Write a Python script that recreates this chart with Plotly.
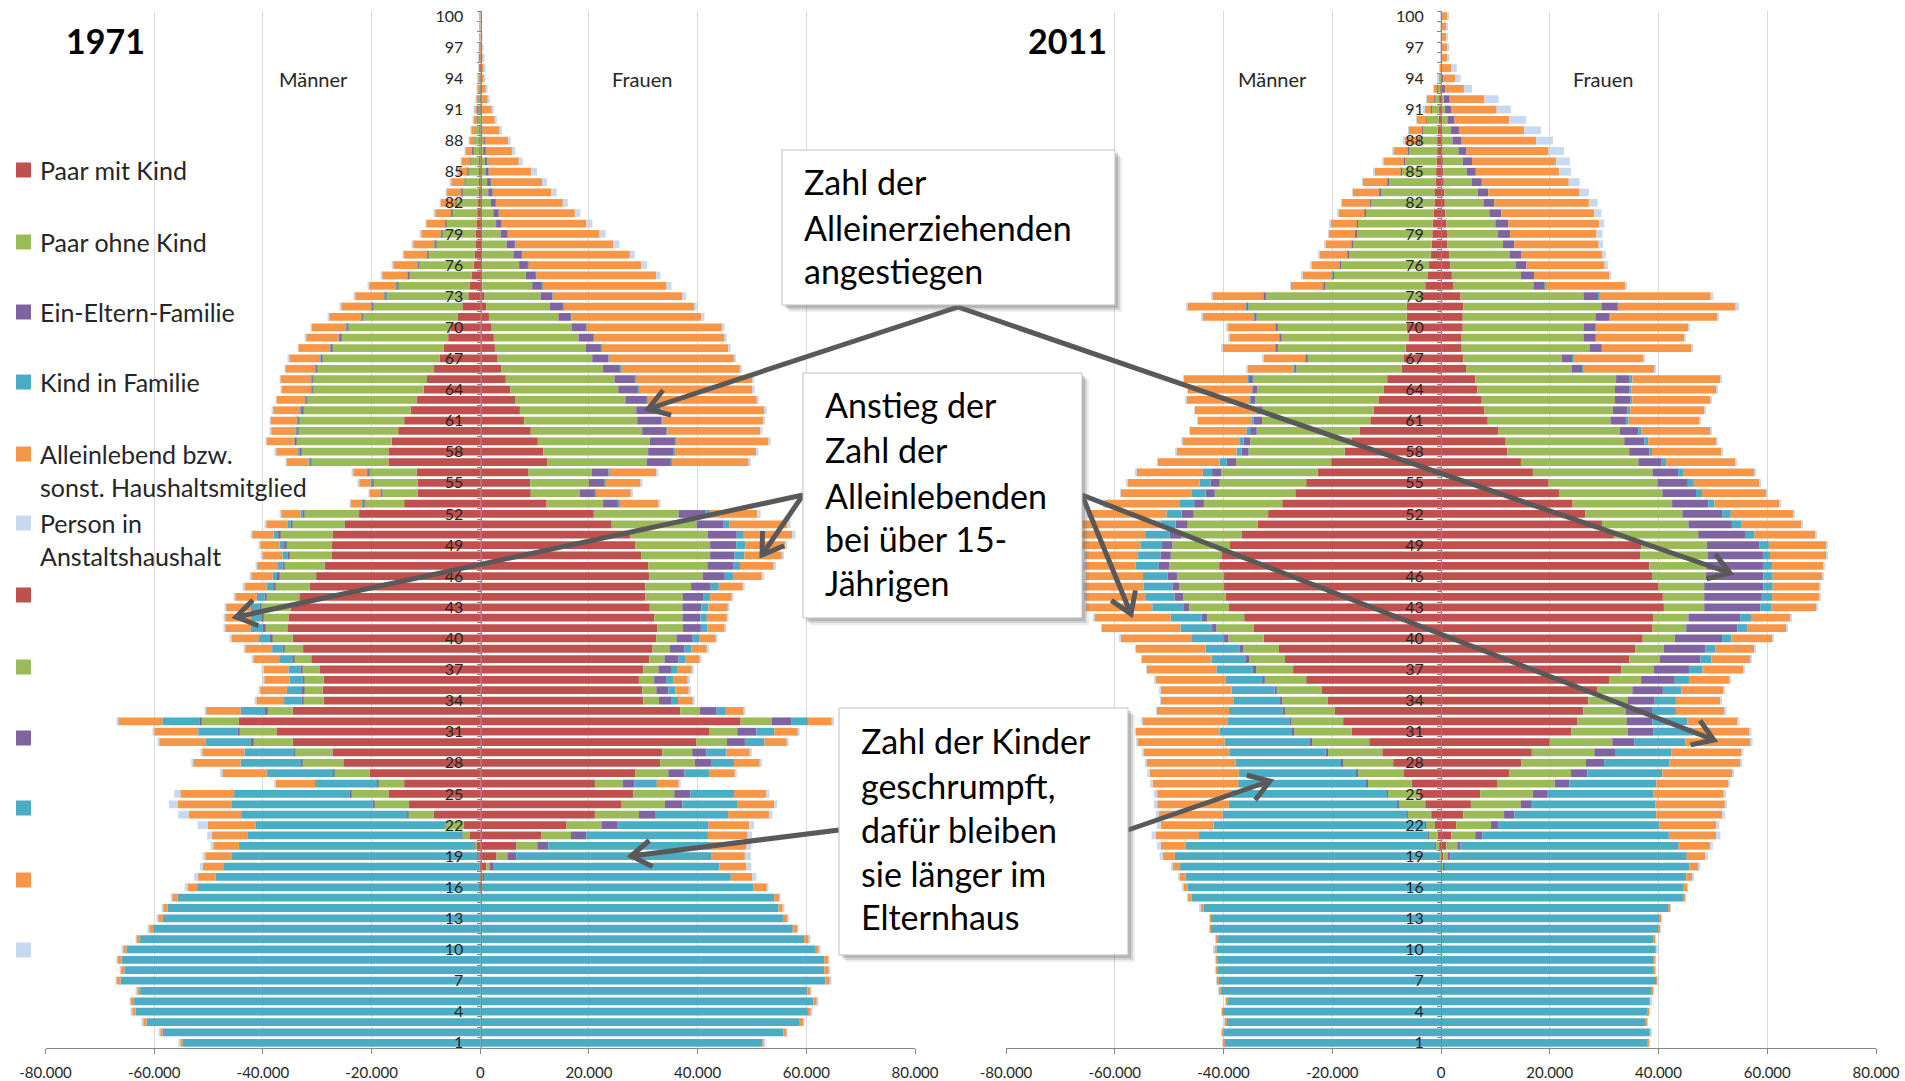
import math
import plotly.graph_objects as go

W, H = 1905, 1081


def px(x):
    return x / W


def py(y):
    return 1 - y / H


# ---------------- data (values in thousand persons), ages 100 -> 1 ----------------
AGES = list(range(100, 0, -1))
AGE_TICKS = list(range(1, 101, 3))

CATEGORIES = ["Paar mit Kind", "Paar ohne Kind", "Ein-Eltern-Familie", "Kind in Familie",
              "Alleinlebend bzw. sonst. Haushaltsmitglied", "Person in Anstaltshaushalt"]
COLORS = ["#C0504D", "#9BBB59", "#8064A2", "#4BACC6", "#F79646", "#C6D9F1"]

X_TICKS = [-80, -60, -40, -20, 0, 20, 40, 60, 80]
X_TICKTEXT = ["-80.000", "-60.000", "-40.000", "-20.000", "0", "20.000", "40.000", "60.000", "80.000"]

# ---- 1971 Männer ----
M71_PAAR_MIT_KIND = [
    0, 0, 0, 0, 0, 0.01, 0.02, 0.03, 0.04, 0.05,
    0.06, 0.08, 0.1, 0.12, 0.15, 0.18, 0.2, 0.3, 0.4, 0.55,
    0.7, 0.8, 0.9, 1.0, 1.2, 1.6, 1.9, 2.2, 3.3, 4.2,
    5.4, 5.9, 6.7, 7.5, 8.5, 9.8, 10.4, 11.7, 12.8, 14.0,
    15.1, 16.3, 16.9, 16.9, 11.7, 11.5, 11.5, 14.0, 22.3, 24.9,
    27.2, 27.3, 27.3, 28.6, 30.2, 31.4, 33.3, 34.9, 35.3, 35.5,
    34.5, 32.6, 31.1, 29.6, 28.8, 29.0, 28.8, 34.5, 44.4, 37.5,
    34.5, 27.2, 25.2, 20.3, 14.0, 16.9, 13.1, 8.6, 3.1, 2.0,
    0.6, 0.2, 0.05, 0, 0, 0, 0, 0, 0, 0,
    0, 0, 0, 0, 0, 0, 0, 0, 0, 0]
M71_PAAR_OHNE_KIND = [
    0, 0.01, 0.02, 0.04, 0.06, 0.1, 0.15, 0.25, 0.35, 0.45,
    0.6, 0.8, 1.0, 1.3, 1.7, 2.1, 2.6, 3.1, 4.1, 4.7,
    5.6, 6.3, 7.3, 8.6, 10.0, 11.5, 13.2, 15.1, 16.4, 17.3,
    18.9, 19.8, 20.6, 21.6, 21.5, 20.9, 20.3, 20.1, 19.9, 19.3,
    18.4, 17.6, 16.1, 14.2, 8.8, 8.3, 6.5, 7.4, 10.1, 9.7,
    9.7, 8.5, 7.9, 7.5, 6.9, 6.4, 6.1, 5.4, 4.7, 4.2,
    3.9, 3.5, 3.2, 3.2, 3.6, 3.5, 3.8, 4.8, 7.0, 6.9,
    7.4, 6.8, 7.6, 6.6, 4.8, 6.9, 6.5, 4.7, 3.3, 1.3,
    0.6, 0.3, 0.1, 0.02, 0, 0, 0, 0, 0, 0,
    0, 0, 0, 0, 0, 0, 0, 0, 0, 0]
M71_EIN_ELTERN = [
    0, 0, 0, 0, 0, 0, 0.01, 0.01, 0.02, 0.02,
    0.03, 0.03, 0.04, 0.05, 0.06, 0.07, 0.08, 0.1, 0.1, 0.12,
    0.15, 0.18, 0.2, 0.2, 0.25, 0.3, 0.3, 0.3, 0.3, 0.3,
    0.3, 0.3, 0.3, 0.3, 0.3, 0.3, 0.3, 0.3, 0.3, 0.3,
    0.3, 0.3, 0.3, 0.3, 0.2, 0.2, 0.2, 0.2, 0.3, 0.3,
    0.3, 0.3, 0.3, 0.3, 0.3, 0.3, 0.3, 0.3, 0.3, 0.3,
    0.3, 0.3, 0.3, 0.3, 0.3, 0.3, 0.3, 0.3, 0.3, 0.3,
    0.3, 0.2, 0.2, 0.2, 0.2, 0.2, 0.2, 0.1, 0.1, 0.05,
    0.02, 0.01, 0, 0, 0, 0, 0, 0, 0, 0,
    0, 0, 0, 0, 0, 0, 0, 0, 0, 0]
M71_KIND = [
    0, 0, 0, 0, 0, 0, 0, 0, 0, 0,
    0, 0, 0, 0, 0, 0.01, 0.01, 0.01, 0.02, 0.02,
    0.02, 0.03, 0.03, 0.04, 0.04, 0.05, 0.05, 0.06, 0.06, 0.07,
    0.07, 0.08, 0.08, 0.09, 0.1, 0.1, 0.1, 0.12, 0.12, 0.14,
    0.15, 0.15, 0.2, 0.2, 0.15, 0.15, 0.15, 0.2, 0.4, 0.6,
    0.8, 0.8, 0.9, 0.8, 0.8, 1.2, 1.4, 1.6, 1.9, 2.2,
    2.0, 1.9, 2.4, 2.2, 2.4, 2.8, 3.2, 4.5, 6.8, 7.2,
    8.3, 9.2, 11.1, 12.2, 11.4, 21.3, 26.0, 30.6, 34.8, 39.4,
    43.2, 45.3, 47.0, 48.7, 52.1, 55.7, 57.5, 58.4, 60.2, 62.6,
    65.1, 66.0, 65.5, 66.2, 62.6, 63.7, 63.4, 61.4, 58.4, 54.8]
M71_ALLEIN = [
    0.02, 0.03, 0.05, 0.08, 0.1, 0.15, 0.25, 0.3, 0.4, 0.5,
    0.6, 0.8, 0.9, 1.3, 1.6, 1.8, 2.5, 2.7, 2.7, 3.0,
    3.5, 3.6, 4.0, 4.3, 4.6, 4.7, 5.1, 5.4, 5.6, 6.0,
    6.4, 6.0, 5.8, 5.7, 5.5, 5.7, 5.5, 5.3, 5.1, 4.9,
    4.6, 5.0, 4.1, 4.1, 2.6, 2.2, 2.1, 2.1, 3.6, 3.9,
    4.0, 3.7, 3.7, 3.9, 4.0, 4.1, 4.1, 4.6, 4.8, 4.8,
    5.1, 5.0, 4.8, 4.6, 4.7, 5.0, 5.1, 6.4, 8.2, 8.2,
    8.6, 7.8, 8.8, 8.3, 7.2, 9.9, 9.9, 9.7, 8.8, 6.6,
    4.7, 4.8, 3.9, 3.2, 1.8, 1.0, 0.9, 0.9, 0.8, 0.7,
    0.7, 0.8, 0.7, 0.8, 0.6, 0.7, 0.7, 0.7, 0.6, 0.5]
M71_ANSTALT = [
    0.01, 0.01, 0.01, 0.02, 0.02, 0.03, 0.03, 0.04, 0.05, 0.05,
    0.06, 0.07, 0.08, 0.1, 0.1, 0.1, 0.1, 0.1, 0.1, 0.1,
    0.1, 0.1, 0.1, 0.1, 0.1, 0.1, 0.1, 0.1, 0.1, 0.1,
    0.1, 0.1, 0.1, 0.1, 0.1, 0.1, 0.1, 0.1, 0.1, 0.1,
    0.1, 0.1, 0.1, 0.1, 0.1, 0.1, 0.1, 0.1, 0.2, 0.2,
    0.2, 0.2, 0.2, 0.2, 0.2, 0.2, 0.2, 0.2, 0.2, 0.2,
    0.2, 0.2, 0.2, 0.2, 0.2, 0.2, 0.2, 0.2, 0.2, 0.2,
    0.2, 0.3, 0.3, 0.3, 0.4, 1.1, 1.6, 1.9, 1.9, 0.9,
    0.5, 0.5, 0.5, 0.7, 0.5, 0.2, 0.1, 0.1, 0.1, 0.1,
    0.1, 0.1, 0.1, 0.1, 0.1, 0.1, 0.1, 0.1, 0.1, 0.1]

# ---- 1971 Frauen ----
W71_PAAR_MIT_KIND = [
    0, 0, 0, 0, 0, 0, 0, 0, 0, 0.01,
    0.01, 0.02, 0.02, 0.03, 0.04, 0.05, 0.06, 0.07, 0.08, 0.1,
    0.12, 0.15, 0.18, 0.2, 0.25, 0.3, 0.35, 0.8, 1.1, 1.6,
    2.1, 2.5, 2.7, 3.2, 3.9, 4.7, 5.5, 6.4, 7.3, 8.1,
    9.3, 10.6, 11.6, 12.3, 8.9, 9.2, 9.3, 12.2, 20.9, 24.2,
    27.6, 28.5, 29.6, 30.9, 31.1, 30.4, 30.4, 31.2, 32.0, 32.6,
    32.4, 31.7, 31.1, 30.0, 29.2, 29.8, 30.0, 36.8, 47.9, 42.1,
    39.8, 33.5, 33.1, 28.5, 21.1, 28.1, 25.9, 21.1, 15.8, 11.2,
    6.6, 3.0, 1.1, 0.4, 0.1, 0, 0, 0, 0, 0,
    0, 0, 0, 0, 0, 0, 0, 0, 0, 0]
W71_PAAR_OHNE_KIND = [
    0, 0, 0.01, 0.02, 0.03, 0.04, 0.05, 0.1, 0.15, 0.2,
    0.3, 0.4, 0.6, 0.7, 0.8, 0.9, 1.2, 1.4, 1.9, 2.3,
    2.8, 3.6, 4.7, 5.9, 6.9, 8.1, 9.2, 10.3, 11.7, 12.8,
    14.7, 15.6, 16.7, 17.4, 18.7, 20.0, 19.9, 20.3, 21.4, 20.8,
    20.5, 20.6, 19.3, 18.3, 11.6, 10.8, 9.0, 10.4, 15.6, 15.6,
    14.3, 13.8, 12.7, 10.9, 9.8, 8.4, 6.9, 6.0, 5.2, 4.7,
    3.7, 3.2, 2.8, 2.8, 2.8, 2.6, 2.9, 3.6, 5.7, 5.2,
    5.6, 5.5, 6.4, 6.1, 5.1, 7.6, 8.1, 8.1, 6.5, 5.5,
    3.9, 2.0, 0.6, 0.1, 0, 0, 0, 0, 0, 0,
    0, 0, 0, 0, 0, 0, 0, 0, 0, 0]
W71_EIN_ELTERN = [
    0, 0, 0, 0.01, 0.01, 0.02, 0.03, 0.04, 0.05, 0.1,
    0.1, 0.15, 0.2, 0.3, 0.45, 0.6, 0.7, 0.8, 0.9, 1.0,
    1.0, 1.3, 1.5, 1.6, 1.7, 1.9, 1.9, 2.2, 2.5, 2.3,
    2.7, 2.8, 2.9, 3.0, 3.2, 3.8, 3.7, 4.0, 4.5, 4.5,
    4.5, 4.7, 4.7, 4.5, 3.1, 2.9, 2.8, 2.8, 5.0, 5.0,
    5.3, 4.8, 4.5, 4.7, 4.1, 3.6, 3.7, 3.5, 3.3, 3.3,
    3.0, 2.7, 2.6, 2.3, 2.2, 2.2, 2.2, 3.1, 3.6, 3.5,
    3.3, 2.6, 3.1, 3.0, 2.2, 3.0, 3.2, 3.1, 3.0, 2.8,
    2.0, 1.6, 0.8, 0.2, 0, 0, 0, 0, 0, 0,
    0, 0, 0, 0, 0, 0, 0, 0, 0, 0]
W71_KIND = [
    0, 0, 0, 0, 0, 0, 0, 0, 0, 0,
    0, 0, 0, 0, 0.01, 0.01, 0.01, 0.01, 0.02, 0.02,
    0.02, 0.02, 0.03, 0.03, 0.03, 0.04, 0.04, 0.05, 0.05, 0.06,
    0.06, 0.07, 0.07, 0.08, 0.08, 0.1, 0.1, 0.1, 0.12, 0.12,
    0.14, 0.15, 0.2, 0.2, 0.2, 0.2, 0.2, 0.3, 0.8, 1.1,
    1.3, 1.7, 1.8, 1.3, 1.5, 1.5, 1.3, 1.3, 1.2, 1.2,
    1.3, 1.3, 1.3, 1.1, 1.3, 1.3, 1.3, 1.7, 3.1, 3.3,
    3.6, 3.7, 4.1, 4.5, 4.1, 8.0, 10.2, 13.3, 16.7, 22.4,
    30.1, 36.0, 41.5, 45.4, 50.2, 54.1, 54.9, 55.7, 57.5, 59.6,
    61.6, 63.3, 63.3, 63.5, 60.2, 61.3, 60.3, 58.8, 55.8, 51.9]
W71_ALLEIN = [
    0.08, 0.12, 0.2, 0.33, 0.5, 0.65, 0.65, 1.0, 1.3, 1.9,
    2.3, 3.0, 4.3, 4.8, 5.8, 7.8, 9.4, 10.8, 12.3, 14.0,
    15.6, 16.9, 18.1, 19.8, 20.7, 22.0, 22.8, 23.8, 24.0, 23.9,
    24.9, 24.0, 23.3, 23.0, 21.9, 21.4, 20.9, 20.1, 18.9, 18.5,
    17.1, 17.0, 15.0, 14.1, 8.6, 6.4, 6.5, 7.1, 8.7, 10.6,
    8.9, 7.3, 6.9, 6.2, 5.4, 4.5, 4.0, 3.6, 3.7, 3.2,
    3.0, 2.9, 2.6, 2.8, 2.8, 2.6, 2.8, 3.3, 4.5, 4.4,
    4.2, 4.4, 4.8, 4.8, 4.1, 5.9, 6.7, 7.6, 7.5, 7.3,
    6.4, 6.1, 5.0, 3.9, 2.5, 1.0, 0.9, 0.9, 0.9, 0.9,
    0.8, 0.8, 0.9, 0.9, 0.6, 0.7, 0.6, 0.7, 0.6, 0.4]
W71_ANSTALT = [
    0.02, 0.03, 0.05, 0.07, 0.1, 0.12, 0.15, 0.2, 0.25, 0.3,
    0.35, 0.4, 0.5, 0.6, 0.7, 1.1, 0.9, 1.0, 0.9, 1.0,
    1.1, 1.1, 1.1, 0.9, 1.1, 0.8, 0.9, 0.7, 0.5, 0.6,
    0.5, 0.4, 0.4, 0.4, 0.4, 0.4, 0.4, 0.4, 0.5, 0.4,
    0.4, 0.4, 0.4, 0.4, 0.4, 0.3, 0.3, 0.4, 0.6, 0.6,
    0.6, 0.4, 0.4, 0.4, 0.3, 0.3, 0.3, 0.3, 0.3, 0.3,
    0.3, 0.3, 0.3, 0.3, 0.3, 0.3, 0.3, 0.3, 0.3, 0.3,
    0.3, 0.3, 0.3, 0.3, 0.3, 0.6, 0.5, 0.6, 0.9, 0.8,
    0.9, 1.1, 0.9, 0.8, 0.2, 0.1, 0.1, 0.1, 0.1, 0.1,
    0.1, 0.1, 0.1, 0.1, 0.1, 0.1, 0.1, 0.1, 0.1, 0.1]

# ---- 2011 Männer ----
M11_PAAR_MIT_KIND = [
    0, 0, 0, 0, 0, 0.01, 0.02, 0.1, 0.3, 0.3,
    0.4, 0.6, 0.7, 0.7, 0.8, 0.9, 1.0, 1.1, 1.2, 1.3,
    1.5, 1.6, 1.7, 1.9, 2.2, 2.5, 2.9, 3.5, 6.3, 6.3,
    6.3, 6.0, 6.5, 6.8, 7.2, 9.9, 10.5, 11.5, 12.4, 13.0,
    15.0, 16.4, 17.7, 20.2, 22.7, 24.8, 26.8, 29.2, 31.8, 33.7,
    36.7, 38.8, 40.4, 40.8, 39.9, 39.9, 39.6, 39.0, 36.2, 34.5,
    32.6, 29.8, 28.7, 27.2, 24.8, 22.0, 20.8, 19.5, 18.0, 16.4,
    13.2, 10.8, 8.8, 6.8, 5.4, 4.0, 2.9, 1.8, 1.1, 0.6,
    0.3, 0.05, 0, 0, 0, 0, 0, 0, 0, 0,
    0, 0, 0, 0, 0, 0, 0, 0, 0, 0]
M11_PAAR_OHNE_KIND = [
    0, 0.01, 0.01, 0.03, 0.05, 0.1, 0.2, 0.6, 0.9, 1.5,
    2.2, 2.8, 3.3, 5.3, 5.9, 6.4, 8.7, 10.1, 11.7, 12.6,
    13.8, 14.0, 14.5, 15.1, 16.2, 17.3, 18.6, 28.7, 29.1, 27.6,
    23.7, 23.3, 23.5, 17.7, 19.4, 24.7, 23.3, 22.7, 20.4, 19.9,
    18.9, 18.7, 17.7, 17.5, 17.7, 15.9, 14.8, 14.4, 13.7, 12.9,
    11.0, 10.6, 9.3, 9.2, 8.6, 8.2, 7.8, 7.3, 6.8, 6.8,
    6.5, 6.6, 6.6, 6.8, 7.6, 8.2, 8.4, 9.2, 9.5, 10.6,
    10.6, 10.1, 9.4, 8.6, 8.2, 5.8, 5.0, 4.3, 1.8, 1.7,
    0.7, 0.1, 0.02, 0, 0, 0, 0, 0, 0, 0,
    0, 0, 0, 0, 0, 0, 0, 0, 0, 0]
M11_EIN_ELTERN = [
    0, 0, 0, 0, 0, 0, 0.01, 0.02, 0.03, 0.03,
    0.05, 0.06, 0.07, 0.08, 0.1, 0.1, 0.12, 0.12, 0.14, 0.15,
    0.16, 0.18, 0.2, 0.2, 0.2, 0.2, 0.2, 0.4, 0.4, 0.4,
    0.4, 0.4, 0.4, 0.4, 0.4, 0.8, 0.8, 0.8, 0.9, 1.6,
    1.2, 1.2, 1.3, 1.7, 1.7, 1.7, 1.7, 1.8, 2.2, 2.2,
    2.2, 1.9, 1.9, 1.9, 1.8, 1.3, 1.6, 1.1, 1.0, 0.8,
    0.8, 0.7, 0.7, 0.6, 0.5, 0.4, 0.4, 0.4, 0.4, 0.4,
    0.3, 0.3, 0.2, 0.2, 0.2, 0.1, 0.1, 0.05, 0.03, 0.02,
    0.01, 0, 0, 0, 0, 0, 0, 0, 0, 0,
    0, 0, 0, 0, 0, 0, 0, 0, 0, 0]
M11_KIND = [
    0, 0, 0, 0, 0, 0, 0, 0, 0, 0,
    0, 0, 0, 0, 0, 0, 0, 0, 0, 0,
    0, 0, 0, 0.02, 0.02, 0.02, 0.03, 0.05, 0.05, 0.05,
    0.05, 0.05, 0.05, 0.05, 0.05, 0.1, 0.1, 0.15, 0.2, 0.4,
    0.7, 0.8, 0.9, 1.3, 1.7, 2.0, 2.5, 2.6, 2.8, 2.8,
    4.5, 4.0, 4.1, 4.3, 4.5, 5.3, 5.4, 5.7, 5.7, 5.8,
    5.9, 6.2, 6.2, 6.7, 6.7, 7.9, 8.6, 9.9, 11.4, 13.3,
    15.7, 17.6, 19.4, 21.6, 23.5, 28.7, 31.0, 34.0, 38.9, 42.2,
    46.0, 48.8, 48.0, 47.0, 46.6, 45.9, 43.6, 42.3, 42.3, 41.0,
    41.3, 41.1, 41.1, 41.0, 40.5, 39.3, 40.1, 39.5, 40.0, 39.8]
M11_ALLEIN = [
    0.02, 0.03, 0.05, 0.07, 0.1, 0.15, 0.3, 0.6, 1.4, 1.2,
    1.8, 2.5, 2.7, 2.7, 3.8, 4.9, 4.6, 4.9, 5.2, 4.8,
    4.9, 4.9, 4.9, 5.2, 5.2, 5.5, 5.9, 9.4, 10.8, 9.6,
    8.9, 9.2, 9.8, 7.7, 8.6, 11.8, 11.9, 11.7, 11.4, 9.8,
    10.4, 10.5, 11.1, 11.4, 12.2, 13.3, 13.1, 13.9, 14.5, 14.5,
    12.0, 10.8, 9.8, 9.4, 10.5, 10.9, 11.1, 12.2, 14.1, 14.5,
    13.2, 12.8, 12.8, 12.8, 12.9, 13.1, 13.3, 13.3, 15.6, 15.4,
    16.0, 16.0, 16.4, 16.5, 15.7, 13.6, 13.2, 11.7, 9.7, 7.9,
    4.5, 2.2, 1.4, 1.0, 0.8, 0.7, 0.7, 0.3, 0.3, 0.4,
    0.4, 0.3, 0.3, 0.3, 0.4, 0.3, 0.3, 0.3, 0.3, 0.3]
M11_ANSTALT = [
    0.01, 0.01, 0.01, 0.02, 0.02, 0.03, 0.05, 0.08, 0.1, 0.1,
    0.1, 0.1, 0.1, 0.1, 0.1, 0.1, 0.1, 0.1, 0.1, 0.1,
    0.1, 0.1, 0.1, 0.1, 0.1, 0.1, 0.1, 0.1, 0.1, 0.1,
    0.1, 0.1, 0.1, 0.1, 0.1, 0.1, 0.1, 0.1, 0.1, 0.1,
    0.1, 0.1, 0.1, 0.1, 0.1, 0.1, 0.1, 0.1, 0.1, 0.1,
    0.1, 0.1, 0.1, 0.1, 0.1, 0.1, 0.1, 0.1, 0.1, 0.1,
    0.1, 0.1, 0.1, 0.1, 0.1, 0.1, 0.1, 0.1, 0.1, 0.1,
    0.2, 0.2, 0.2, 0.3, 0.5, 0.6, 0.6, 0.6, 0.7, 0.8,
    0.7, 0.6, 0.3, 0.2, 0.1, 0.1, 0.05, 0.05, 0.05, 0.05,
    0.05, 0.05, 0.05, 0.05, 0.05, 0.05, 0.05, 0.05, 0.05, 0.05]

# ---- 2011 Frauen ----
W11_PAAR_MIT_KIND = [
    0, 0, 0, 0, 0, 0, 0.01, 0.02, 0.05, 0.05,
    0.08, 0.1, 0.2, 0.2, 0.3, 0.4, 0.5, 0.6, 0.7, 0.8,
    1.0, 1.1, 1.2, 1.5, 1.7, 2.0, 2.2, 3.6, 4.1, 4.0,
    4.0, 3.8, 3.8, 4.1, 4.6, 6.3, 6.7, 7.5, 8.0, 8.6,
    10.5, 11.9, 12.2, 14.7, 16.9, 19.8, 21.7, 24.2, 26.5, 29.6,
    31.8, 36.8, 36.6, 38.3, 38.8, 40.0, 40.8, 41.0, 39.1, 38.9,
    37.1, 35.7, 34.6, 33.2, 31.0, 28.7, 27.1, 26.2, 25.1, 24.0,
    20.0, 16.7, 14.8, 12.5, 10.3, 7.2, 5.5, 4.1, 2.8, 1.9,
    1.0, 0.4, 0.1, 0, 0, 0, 0, 0, 0, 0,
    0, 0, 0, 0, 0, 0, 0, 0, 0, 0]
W11_PAAR_OHNE_KIND = [
    0, 0, 0.01, 0.02, 0.03, 0.1, 0.1, 0.2, 0.45, 0.7,
    1.1, 1.7, 1.9, 3.0, 3.7, 4.3, 5.2, 6.2, 7.1, 8.1,
    9.0, 9.4, 10.2, 11.1, 12.0, 12.7, 14.8, 22.6, 25.4, 24.4,
    22.2, 22.4, 23.5, 18.1, 19.4, 25.9, 25.3, 24.5, 23.6, 22.6,
    22.4, 21.8, 22.4, 21.6, 22.0, 20.0, 19.0, 18.3, 17.9, 15.9,
    15.5, 12.1, 12.5, 10.5, 9.9, 8.4, 7.6, 7.4, 6.4, 6.2,
    5.9, 5.3, 5.6, 5.9, 5.8, 6.5, 7.2, 7.8, 9.0, 10.3,
    11.5, 11.5, 11.8, 11.4, 10.6, 9.7, 9.2, 7.5, 6.4, 4.4,
    2.0, 0.9, 0.4, 0.1, 0, 0, 0, 0, 0, 0,
    0, 0, 0, 0, 0, 0, 0, 0, 0, 0]
W11_EIN_ELTERN = [
    0, 0, 0, 0.02, 0.03, 0.1, 0.3, 0.6, 1.1, 1.1,
    1.3, 1.5, 1.7, 1.5, 1.7, 1.7, 1.8, 1.9, 2.0, 2.2,
    2.4, 2.2, 2.1, 2.2, 2.0, 2.4, 2.1, 2.8, 3.0, 2.5,
    2.2, 2.2, 2.2, 2.0, 2.0, 2.5, 2.6, 2.8, 2.7, 2.8,
    3.4, 3.7, 3.7, 4.3, 4.7, 5.6, 6.2, 6.7, 7.3, 8.0,
    8.6, 9.7, 10.1, 10.4, 10.6, 10.9, 10.6, 10.3, 9.5, 9.4,
    8.7, 7.6, 7.5, 6.5, 6.2, 5.6, 5.0, 4.8, 4.8, 4.8,
    4.1, 3.8, 3.4, 3.0, 2.7, 2.6, 2.0, 1.9, 1.3, 1.3,
    0.6, 0.4, 0.1, 0, 0, 0, 0, 0, 0, 0,
    0, 0, 0, 0, 0, 0, 0, 0, 0, 0]
W11_KIND = [
    0, 0, 0, 0, 0, 0, 0, 0, 0, 0,
    0, 0, 0, 0, 0, 0, 0, 0, 0, 0,
    0, 0, 0, 0, 0, 0, 0.05, 0.1, 0.1, 0.1,
    0.1, 0.1, 0.1, 0.1, 0.1, 0.5, 0.4, 0.4, 0.5, 0.5,
    0.6, 0.7, 0.5, 0.8, 0.9, 1.1, 1.1, 1.1, 1.6, 1.7,
    1.7, 1.7, 1.3, 1.7, 1.7, 1.7, 1.9, 2.0, 2.0, 1.8,
    1.7, 1.9, 2.0, 2.5, 2.6, 3.4, 3.9, 4.4, 6.4, 7.3,
    9.3, 10.4, 12.0, 13.8, 16.0, 19.6, 22.7, 26.1, 29.7, 34.3,
    40.1, 43.5, 45.1, 45.0, 44.5, 44.5, 41.9, 40.2, 40.0, 39.1,
    39.4, 39.1, 39.1, 39.6, 38.8, 38.3, 38.0, 37.6, 38.3, 38.0]
W11_ALLEIN = [
    1.1, 1.0, 1.0, 1.1, 1.1, 1.7, 2.2, 3.4, 6.4, 8.4,
    10.1, 12.0, 13.7, 15.1, 15.5, 15.3, 16.0, 16.8, 17.4, 17.1,
    16.7, 15.9, 15.5, 14.8, 14.4, 13.9, 14.7, 20.5, 21.6, 19.9,
    17.0, 16.2, 16.5, 12.9, 13.1, 16.2, 15.7, 14.4, 13.6, 13.1,
    12.7, 12.5, 12.8, 12.7, 13.1, 12.1, 11.8, 12.0, 11.5, 11.1,
    11.2, 10.6, 10.4, 9.5, 9.2, 8.7, 8.7, 8.3, 7.3, 7.2,
    7.5, 7.1, 7.3, 7.5, 7.5, 7.8, 8.2, 9.0, 9.3, 10.4,
    12.1, 12.9, 13.1, 12.9, 13.2, 12.9, 12.8, 12.1, 10.4, 8.7,
    5.8, 3.4, 1.7, 1.1, 0.8, 0.4, 0.3, 0.3, 0.3, 0.3,
    0.3, 0.3, 0.3, 0.3, 0.3, 0.3, 0.3, 0.3, 0.3, 0.3]
W11_ANSTALT = [
    0.4, 0.3, 0.3, 0.4, 0.4, 1.0, 1.0, 1.5, 2.6, 2.6,
    3.1, 3.1, 3.1, 2.8, 2.5, 2.2, 2.0, 1.7, 1.6, 1.3,
    0.9, 1.1, 0.8, 0.7, 0.6, 0.3, 0.4, 0.5, 0.6, 0.2,
    0.3, 0.2, 0.3, 0.2, 0.2, 0.3, 0.2, 0.2, 0.2, 0.2,
    0.2, 0.2, 0.2, 0.2, 0.2, 0.3, 0.2, 0.3, 0.3, 0.3,
    0.2, 0.2, 0.2, 0.2, 0.2, 0.2, 0.2, 0.2, 0.2, 0.2,
    0.2, 0.2, 0.2, 0.2, 0.2, 0.3, 0.3, 0.3, 0.3, 0.3,
    0.3, 0.3, 0.3, 0.3, 0.3, 0.4, 0.4, 0.5, 0.6, 0.8,
    0.5, 0.5, 0.3, 0.2, 0.1, 0.1, 0.05, 0.05, 0.05, 0.05,
    0.05, 0.05, 0.05, 0.05, 0.05, 0.05, 0.05, 0.05, 0.05, 0.05]

PANELS = [
    ("x", "y",
     [M71_PAAR_MIT_KIND, M71_PAAR_OHNE_KIND, M71_EIN_ELTERN, M71_KIND, M71_ALLEIN, M71_ANSTALT],
     [W71_PAAR_MIT_KIND, W71_PAAR_OHNE_KIND, W71_EIN_ELTERN, W71_KIND, W71_ALLEIN, W71_ANSTALT]),
    ("x2", "y2",
     [M11_PAAR_MIT_KIND, M11_PAAR_OHNE_KIND, M11_EIN_ELTERN, M11_KIND, M11_ALLEIN, M11_ANSTALT],
     [W11_PAAR_MIT_KIND, W11_PAAR_OHNE_KIND, W11_EIN_ELTERN, W11_KIND, W11_ALLEIN, W11_ANSTALT]),
]

for _, _, men, women in PANELS:
    for s in men + women:
        assert len(s) == len(AGES)

# ---------------- figure ----------------
fig = go.Figure()
for xa, ya, men, women in PANELS:
    for i in range(6):
        fig.add_trace(go.Bar(y=AGES, x=[-v for v in men[i]], orientation="h", name=CATEGORIES[i],
                             marker=dict(color=COLORS[i], line=dict(width=0)),
                             xaxis=xa, yaxis=ya, showlegend=False,
                             hovertemplate="%{y}: %{customdata}<extra></extra>", customdata=men[i]))
    for i in range(6):
        fig.add_trace(go.Bar(y=AGES, x=women[i], orientation="h", name=CATEGORIES[i],
                             marker=dict(color=COLORS[i], line=dict(width=0)),
                             xaxis=xa, yaxis=ya, showlegend=False,
                             hovertemplate="%{y}: %{x}<extra></extra>"))

FONT = "Lato"
AX_COLOR = "#868686"
TXT = "#262626"

xaxis_common = dict(range=[-80, 80], tickmode="array", tickvals=X_TICKS, ticktext=X_TICKTEXT,
                    showgrid=True, gridcolor="#D9D9D9", gridwidth=1, zeroline=False,
                    showline=True, linecolor=AX_COLOR, linewidth=1, ticks="outside",
                    ticklen=5, tickcolor=AX_COLOR, tickfont=dict(family=FONT, size=15, color=TXT),
                    ticklabelstandoff=6, automargin=False, fixedrange=True)
yaxis_common = dict(range=[0.5, 100.5], tickmode="array", tickvals=AGE_TICKS,
                    ticktext=[str(a) for a in AGE_TICKS], showgrid=False, zeroline=False,
                    showline=True, linecolor=AX_COLOR, linewidth=1, ticks="",
                    minor=dict(tickmode="linear", tick0=0.5, dtick=1, ticks="outside",
                               ticklen=4, tickcolor=AX_COLOR, showgrid=False),
                    tickfont=dict(family=FONT, size=16, color=TXT), ticklabelstandoff=14,
                    domain=[py(1048), py(11)], anchor="free", side="left",
                    automargin=False, fixedrange=True)

fig.update_layout(
    width=W, height=H, autosize=False,
    margin=dict(l=0, r=0, t=0, b=0, pad=0, autoexpand=False),
    paper_bgcolor="white", plot_bgcolor="white",
    barmode="relative", bargap=0.25,
    font=dict(family=FONT, color=TXT),
    showlegend=False,
    xaxis=dict(domain=[px(45.5), px(915)], anchor="y", **xaxis_common),
    xaxis2=dict(domain=[px(1006), px(1876)], anchor="y2", **xaxis_common),
    yaxis=dict(position=px(480.6), **yaxis_common),
    yaxis2=dict(position=px(1441), **yaxis_common),
)

ann = []
shapes = []


def text(x, y, s, size, anchor="left", color=TXT, bold=False):
    ann.append(dict(x=px(x), y=py(y), xref="paper", yref="paper", text=("<b>%s</b>" % s) if bold else s,
                    showarrow=False, xanchor=anchor, yanchor="middle",
                    font=dict(family=FONT, size=size, color=color)))


# titles and sex labels
text(64, 40, "1971", 34, bold=True, color="#000000")
text(1026, 40, "2011", 34, bold=True, color="#000000")
text(313, 79, "Männer", 20, anchor="center")
text(642, 79, "Frauen", 20, anchor="center")
text(1272, 79, "Männer", 20, anchor="center")
text(1603, 79, "Frauen", 20, anchor="center")

# legend (drawn manually, as in the original layout)
LEGEND_ROWS = [(170, 0, "Paar mit Kind"), (242, 1, "Paar ohne Kind"), (312, 2, "Ein-Eltern-Familie"),
               (382, 3, "Kind in Familie"), (454, 4, "Alleinlebend bzw."), (487, None, "sonst. Haushaltsmitglied"),
               (523, 5, "Person in"), (556, None, "Anstaltshaushalt"),
               (595, 0, ""), (667, 1, ""), (738, 2, ""), (808, 3, ""), (880, 4, ""), (950, 5, "")]
for yc, ci, label in LEGEND_ROWS:
    if ci is not None:
        shapes.append(dict(type="rect", xref="paper", yref="paper", x0=px(16), x1=px(31),
                           y0=py(yc + 7.5), y1=py(yc - 7.5), fillcolor=COLORS[ci], line=dict(width=0)))
    if label:
        text(38, yc, label, 25)

# arrows (open chevron heads)
ARROWS = [((958, 307), (648, 409)), ((958, 307), (1730, 573)),
          ((803, 495), (236, 617)), ((803, 495), (762, 555)),
          ((1082, 495), (1131, 614)), ((1082, 495), (1714, 740)),
          ((839, 830), (631, 856)), ((1128, 830), (1270, 781))]
ARROW_COLOR = "#595959"
for (x0, y0), (x1, y1) in ARROWS:
    dx, dy = x1 - x0, y1 - y0
    L = math.hypot(dx, dy)
    ux, uy = dx / L, dy / L
    head = 24
    ang = math.radians(33)
    arms = []
    for s in (1, -1):
        c, sn = math.cos(s * ang), math.sin(s * ang)
        bx, by = -ux, -uy
        rx, ry = bx * c - by * sn, bx * sn + by * c
        arms.append((x1 + rx * head, y1 + ry * head))
    shapes.append(dict(type="line", xref="paper", yref="paper", x0=px(x0), y0=py(y0), x1=px(x1), y1=py(y1),
                       line=dict(color=ARROW_COLOR, width=5)))
    path = "M %f,%f L %f,%f L %f,%f" % (px(arms[0][0]), py(arms[0][1]), px(x1), py(y1),
                                        px(arms[1][0]), py(arms[1][1]))
    shapes.append(dict(type="path", xref="paper", yref="paper", path=path,
                       line=dict(color=ARROW_COLOR, width=5)))

# callout boxes
BOXES = [
    ((782, 150, 1115, 305), ["Zahl der", "Alleinerziehenden", "angestiegen"], [182, 227, 271], 802),
    ((803, 373, 1082, 618), ["Anstieg der", "Zahl der", "Alleinlebenden", "bei über 15-", "Jährigen"],
     [404, 450, 495, 538, 582], 823),
    ((839, 708, 1128, 955), ["Zahl der Kinder", "geschrumpft,", "dafür bleiben", "sie länger im", "Elternhaus"],
     [740, 785, 829, 874, 917], 859),
]
for (bx0, by0, bx1, by1), lines, ys, tx in BOXES:
    for off, op in ((7, 0.12), (5, 0.2), (3, 0.3)):
        shapes.append(dict(type="rect", xref="paper", yref="paper", x0=px(bx0 + off), x1=px(bx1 + off),
                           y0=py(by1 + off), y1=py(by0 + off), fillcolor="#6f6f6f", opacity=op,
                           line=dict(width=0)))
    shapes.append(dict(type="rect", xref="paper", yref="paper", x0=px(bx0), x1=px(bx1),
                       y0=py(by1), y1=py(by0), fillcolor="white", line=dict(color="#BFBFBF", width=1)))
    for s, yc in zip(lines, ys):
        text(tx, yc, s, 34, color="#000000")

fig.update_layout(annotations=ann, shapes=shapes)

fig.write_html("out.html", config={"displayModeBar": False},
               post_script="document.body.style.margin='0';")
